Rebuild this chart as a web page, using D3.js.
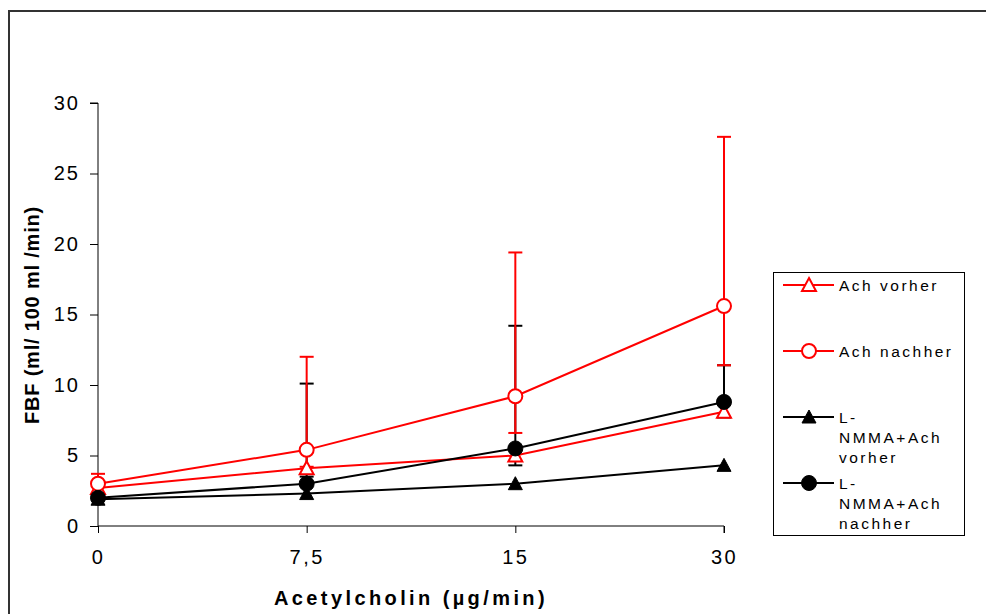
<!DOCTYPE html>
<html>
<head>
<meta charset="utf-8">
<script src="https://cdn.jsdelivr.net/npm/d3@7"></script>
<style>
  html, body { margin: 0; padding: 0; background: #fff; }
  svg { display: block; font-family: "Liberation Sans", Arial, sans-serif; }
</style>
</head>
<body>
<svg id="chart" width="986" height="614"></svg>
<script>
// ---- data ----
const categories = ["0", "7,5", "15", "30"];
const yTicks = [0, 5, 10, 15, 20, 25, 30];

const achVorher = [2.7, 4.1, 5.0, 8.1];
const achNachher = [3.0, 5.4, 9.2, 15.6];
const nmmaVorher = [1.9, 2.3, 3.0, 4.3];
const nmmaNachher = [2.0, 3.0, 5.5, 8.8];

const achVorherErrPlus = [0, 0, 0, 0];
const achVorherErrMinus = [0, 0, 0, 0];
const achNachherErrPlus = [0.7, 6.6, 10.2, 12.0];
const achNachherErrMinus = [0, 1.2, 2.6, 4.2];
const nmmaVorherErrPlus = [0, 1.2, 0, 0];
const nmmaVorherErrMinus = [0, 0, 0, 0];
const nmmaNachherErrPlus = [0, 7.1, 8.7, 2.6];
const nmmaNachherErrMinus = [0, 0, 1.2, 1.1];

const seriesNames = ["Ach vorher", "Ach nachher", "L-\nNMMA+Ach\nvorher", "L-\nNMMA+Ach\nnachher"];

const series = [
  { name: seriesNames[0], values: achVorher, plus: achVorherErrPlus, minus: achVorherErrMinus, color: "#ff0000", marker: "triangle", filled: false },
  { name: seriesNames[1], values: achNachher, plus: achNachherErrPlus, minus: achNachherErrMinus, color: "#ff0000", marker: "circle", filled: false },
  { name: seriesNames[2], values: nmmaVorher, plus: nmmaVorherErrPlus, minus: nmmaVorherErrMinus, color: "#000000", marker: "triangle", filled: true },
  { name: seriesNames[3], values: nmmaNachher, plus: nmmaNachherErrPlus, minus: nmmaNachherErrMinus, color: "#000000", marker: "circle", filled: true }
];

// ---- layout ----
const svg = d3.select("#chart");
const plot = { left: 98, right: 724, top: 103, bottom: 526 };

// outer frame (extends past the viewport on right and bottom)
svg.append("rect")
  .attr("x", 9).attr("y", 11)
  .attr("width", 1200).attr("height", 800)
  .attr("fill", "none").attr("stroke", "#333").attr("stroke-width", 2);

const x = d3.scalePoint().domain(categories).range([plot.left, plot.right]);
const y = d3.scaleLinear().domain([0, 30]).range([plot.bottom, plot.top]);

// y axis
const yAxis = d3.axisLeft(y).tickValues(yTicks).tickSize(8).tickPadding(10).tickFormat(d3.format("d"));
const gy = svg.append("g").attr("transform", `translate(${plot.left},0)`).call(yAxis);
gy.select(".domain").attr("stroke", "#000").attr("stroke-width", 1).attr("d", `M-8,${plot.top}H0V${plot.bottom}`);
gy.selectAll(".tick line").attr("stroke", "#000");
gy.selectAll(".tick text")
  .attr("font-size", 20).attr("fill", "#000")
  .attr("font-family", "Liberation Sans, Arial, sans-serif")
  .style("letter-spacing", "2px");

// x axis
const xAxis = d3.axisBottom(x).tickSize(7).tickPadding(17);
const gx = svg.append("g").attr("transform", `translate(0,${plot.bottom})`).call(xAxis);
gx.select(".domain").attr("stroke", "#000").attr("stroke-width", 1).attr("d", `M${plot.left},0H${plot.right}V7`);
gx.selectAll(".tick line").attr("stroke", "#000");
gx.selectAll(".tick text")
  .attr("font-size", 20).attr("fill", "#000")
  .attr("font-family", "Liberation Sans, Arial, sans-serif")
  .style("letter-spacing", "2.5px");

// axis titles
svg.append("text")
  .attr("x", 411).attr("y", 605)
  .attr("text-anchor", "middle")
  .attr("font-size", 20).attr("font-weight", "bold")
  .style("letter-spacing", "3.4px")
  .text("Acetylcholin (µg/min)");

svg.append("text")
  .attr("transform", "translate(39,315) rotate(-90)")
  .attr("text-anchor", "middle")
  .attr("font-size", 20).attr("font-weight", "bold")
  .style("letter-spacing", "0.8px")
  .text("FBF (ml/ 100 ml /min)");

// ---- error bars (black first, red on top) ----
const capW = 7;
const errOrder = [series[2], series[3], series[0], series[1]];
errOrder.forEach(s => {
  const g = svg.append("g").attr("stroke", s.color).attr("stroke-width", 2).attr("fill", "none");
  categories.forEach((c, i) => {
    const v = s.values[i];
    [[s.plus[i], 1], [s.minus[i], -1]].forEach(([e, dir]) => {
      if (!e) return;
      const end = v + dir * e;
      g.append("line").attr("x1", x(c)).attr("x2", x(c)).attr("y1", y(v)).attr("y2", y(end));
      g.append("line").attr("x1", x(c) - capW).attr("x2", x(c) + capW).attr("y1", y(end)).attr("y2", y(end));
    });
  });
});

// ---- lines ----
const line = d3.line().x((d, i) => x(categories[i])).y(d => y(d));
series.forEach(s => {
  svg.append("path").datum(s.values)
    .attr("d", line).attr("fill", "none")
    .attr("stroke", s.color).attr("stroke-width", 2);
});

// ---- markers ----
function drawMarker(g, s, cx, cy) {
  if (s.marker === "circle") {
    g.append("circle").attr("cx", cx).attr("cy", cy).attr("r", s.filled ? 7.5 : 7)
      .attr("fill", s.filled ? s.color : "#fff")
      .attr("stroke", s.color).attr("stroke-width", s.filled ? 1 : 2);
  } else {
    const h = 7;
    g.append("path")
      .attr("d", `M${cx},${cy - h}L${cx + h},${cy + h - 1}L${cx - h},${cy + h - 1}Z`)
      .attr("fill", s.filled ? s.color : "#fff")
      .attr("stroke", s.color).attr("stroke-width", s.filled ? 1 : 2);
  }
}
series.forEach(s => {
  const g = svg.append("g");
  s.values.forEach((v, i) => drawMarker(g, s, x(categories[i]), y(v)));
});

// ---- legend ----
const lg = svg.append("g");
lg.append("rect").attr("x", 773.5).attr("y", 272.5).attr("width", 191).attr("height", 263)
  .attr("fill", "#fff").attr("stroke", "#000").attr("stroke-width", 1);
const legendY = [285, 351, 417, 483];
series.forEach((s, i) => {
  const ly = legendY[i];
  lg.append("line").attr("x1", 783).attr("x2", 834).attr("y1", ly).attr("y2", ly)
    .attr("stroke", s.color).attr("stroke-width", 2);
  drawMarker(lg, s, 809, ly);
  const t = lg.append("text").attr("x", 839).attr("y", ly + 5.5)
    .attr("font-size", 15.5).attr("fill", "#000").style("letter-spacing", "2.5px");
  s.name.split("\n").forEach((part, k) => {
    t.append("tspan").attr("x", 839).attr("dy", k === 0 ? 0 : 20).text(part);
  });
});
</script>
</body>
</html>
